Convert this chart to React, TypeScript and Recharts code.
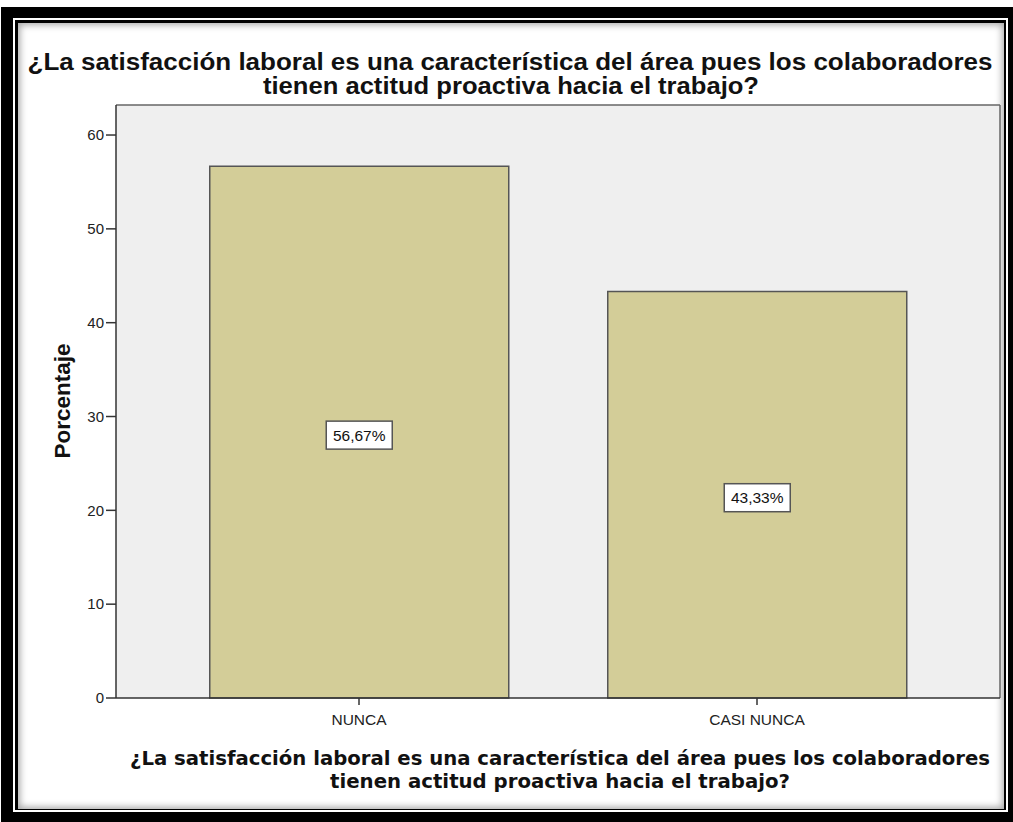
import { BarChart, Bar, XAxis, YAxis, CartesianGrid, LabelList } from 'recharts';

const categories = ['NUNCA', 'CASI NUNCA'];
const porcentajes = [56.67, 43.33];
const etiquetas = ['56,67%', '43,33%'];
const yTicks = [0, 10, 20, 30, 40, 50, 60];

const titulo = [
  '¿La satisfacción laboral es una característica del área pues los colaboradores',
  'tienen actitud proactiva hacia el trabajo?',
];

const data = categories.map((c, i) => ({ name: c, valor: porcentajes[i], etiqueta: etiquetas[i] }));

const BoxLabel = (props: any) => {
  const { x, y, width, height, value } = props;
  const cx = x + width / 2;
  const cy = y + height / 2 + 3;
  return (
    <g>
      <rect x={cx - 33} y={cy - 14} width={66} height={28} fill="#fff" stroke="#555" strokeWidth={1.5} />
      <text x={cx} y={cy} textAnchor="middle" dominantBaseline="central" fontSize={15.5}
        fontFamily="Liberation Sans, Arial, sans-serif" fill="#111">{value}</text>
    </g>
  );
};

// borde superior y derecho del área de trazado
const topLine = (p: any) => [p.offset.top];
const rightLine = (p: any) => [p.offset.left + p.offset.width];

export default function App() {
  return (
    <div style={{ position: 'absolute', left: 0, top: 0, width: 1013, height: 822, background: '#fff' }}>
      {/* marco */}
      <div style={{ position: 'absolute', left: 1, top: 7, width: 1012, height: 815, background: '#000' }} />
      <div style={{ position: 'absolute', left: 13, top: 18, width: 995, height: 794, background: '#000', border: '2px solid #fff', boxSizing: 'border-box' }} />
      <div style={{ position: 'absolute', left: 18, top: 23, width: 986, height: 786, background: '#fff', boxShadow: 'inset 0 0 7px 2px rgba(0,0,0,0.35)' }} />

      <div style={{ position: 'absolute', left: 0, top: 0 }}>
        <BarChart width={1013} height={822} data={data} barCategoryGap="12.5%"
          margin={{ top: 105, right: 13, bottom: 94, left: 76 }}>
          <CartesianGrid fill="#efefef" stroke="#666" strokeWidth={1.5}
            horizontalCoordinatesGenerator={topLine} verticalCoordinatesGenerator={rightLine} />
          <XAxis dataKey="name" padding={{ left: 44, right: 44 }} height={30}
            stroke="#333" strokeWidth={1.5} tickSize={7} tickMargin={9}
            tick={{ fill: '#222', fontSize: 15.5, fontFamily: 'Liberation Sans, Arial, sans-serif' }} />
          <YAxis domain={[0, 63.2]} ticks={yTicks} width={40} stroke="#333" strokeWidth={1.5}
            tickSize={10} tickMargin={2} interval={0}
            tick={{ fill: '#222', fontSize: 15, fontFamily: 'Liberation Sans, Arial, sans-serif' }} />
          <Bar dataKey="valor" fill="#d3cd98" stroke="#555" strokeWidth={1.5} isAnimationActive={false}>
            <LabelList dataKey="etiqueta" content={BoxLabel} />
          </Bar>
        </BarChart>
      </div>

      <svg width={1013} height={822} style={{ position: 'absolute', left: 0, top: 0, pointerEvents: 'none' }}>
        <g fontFamily="Liberation Sans Narrow, Liberation Sans, Arial, sans-serif" fontWeight="bold" fontSize={23} fill="#111" textAnchor="middle">
          <text x={510} y={70} textLength={965} lengthAdjust="spacingAndGlyphs">{titulo[0]}</text>
          <text x={511} y={94} textLength={496} lengthAdjust="spacingAndGlyphs">{titulo[1]}</text>
        </g>
        <g fontFamily="DejaVu Sans, Verdana, sans-serif" fontWeight="bold" fontSize={19.5} fill="#111" textAnchor="middle">
          <text x={560} y={765} textLength={860} lengthAdjust="spacingAndGlyphs">{titulo[0]}</text>
          <text x={560} y={788} textLength={460} lengthAdjust="spacingAndGlyphs">{titulo[1]}</text>
        </g>
        <text x={0} y={0} transform="translate(70,401) rotate(-90)" textAnchor="middle"
          fontFamily="Liberation Sans, Arial, sans-serif" fontWeight="bold" fontSize={22.5} fill="#111">Porcentaje</text>
      </svg>
    </div>
  );
}
